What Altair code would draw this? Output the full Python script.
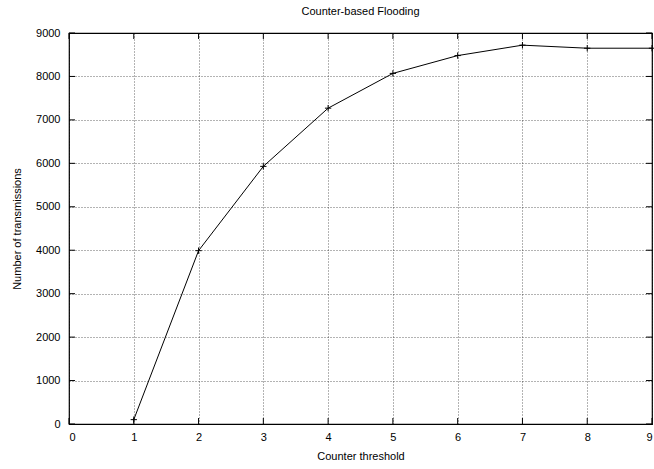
import altair as alt
import pandas as pd

thresholds = [1, 2, 3, 4, 5, 6, 7, 8, 9]
transmissions = [100, 3990, 5930, 7270, 8070, 8480, 8720, 8650, 8650]
x_ticks = [0, 1, 2, 3, 4, 5, 6, 7, 8, 9]
y_ticks = [0, 1000, 2000, 3000, 4000, 5000, 6000, 7000, 8000, 9000]

W, H, T = 583, 391, 6

df = pd.DataFrame({"x": thresholds, "y": transmissions})
xt = pd.DataFrame({"x": x_ticks})
yt = pd.DataFrame({"y": y_ticks})
FONT = "Liberation Sans"

xscale = alt.Scale(domain=[0, 9], nice=False, zero=False)
yscale = alt.Scale(domain=[0, 9000], nice=False)

xenc = alt.X("x:Q", scale=xscale,
             axis=alt.Axis(title="Counter threshold", values=x_ticks, format="d",
                           grid=True, gridDash=[1, 2], gridColor="#000", gridWidth=0.6,
                           domain=False, ticks=False, labelPadding=7, titlePadding=8,
                           labelFontSize=11, titleFontSize=11, labelFont=FONT, titleFont=FONT,
                           labelColor="#000", titleColor="#000", titleFontWeight="normal"))
yenc = alt.Y("y:Q", scale=yscale,
             axis=alt.Axis(title="Number of transmissions", values=y_ticks, format="d",
                           grid=True, gridDash=[1, 2], gridColor="#000", gridWidth=0.6,
                           domain=False, ticks=False, labelPadding=9, titlePadding=13,
                           labelFontSize=11, titleFontSize=11, labelFont=FONT, titleFont=FONT,
                           labelColor="#000", titleColor="#000", titleFontWeight="normal"))

line = alt.Chart(df).mark_line(color="#000", strokeWidth=1).encode(x=xenc, y=yenc)
pts = alt.Chart(df).mark_point(shape="M-1,0L1,0M0,-1L0,1", size=40, filled=False,
                               color="#000", strokeWidth=1, opacity=1).encode(
    x=alt.X("x:Q", scale=xscale), y=alt.Y("y:Q", scale=yscale))

tick_style = dict(color="#000", strokeWidth=1)
xb = alt.Chart(xt).mark_rule(**tick_style).encode(
    x=alt.X("x:Q", scale=xscale), y=alt.value(H), y2=alt.value(H - T))
xtop = alt.Chart(xt).mark_rule(**tick_style).encode(
    x=alt.X("x:Q", scale=xscale), y=alt.value(0), y2=alt.value(T))
yl = alt.Chart(yt).mark_rule(**tick_style).encode(
    y=alt.Y("y:Q", scale=yscale), x=alt.value(0), x2=alt.value(T))
yr = alt.Chart(yt).mark_rule(**tick_style).encode(
    y=alt.Y("y:Q", scale=yscale), x=alt.value(W - T), x2=alt.value(W))

chart = (line + xb + xtop + yl + yr + pts).properties(
    width=W, height=H,
    title=alt.TitleParams("Counter-based Flooding", font=FONT, fontSize=11,
                          fontWeight="normal", color="#000", offset=10),
    autosize=alt.AutoSizeParams(type="none"),
    padding={"left": 69, "top": 33, "right": 2, "bottom": 45},
).configure_view(stroke="#000", strokeWidth=1.2)

chart.save("out.html", embed_options={"renderer": "svg", "actions": False})
